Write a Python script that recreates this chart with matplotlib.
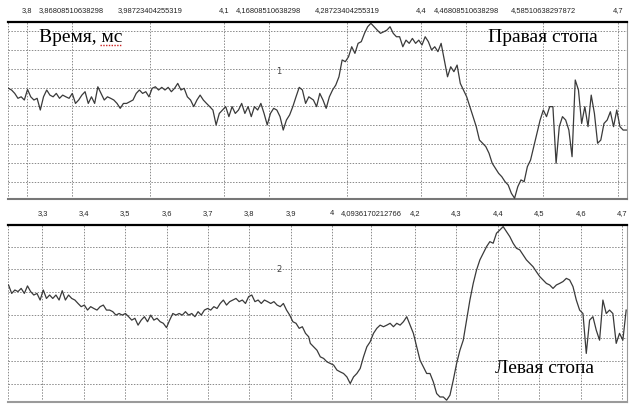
import numpy as np
import matplotlib
matplotlib.use('Agg')
import matplotlib.pyplot as plt

# right foot (top), amplitude in grid units
right_a = [5.96, 5.87, 5.69, 5.43, 5.51, 5.34, 5.90, 5.51, 5.34, 5.43,
           4.81, 5.51, 5.87, 5.60, 5.51, 5.69, 5.43, 5.60, 5.51, 5.43,
           5.69, 5.16, 5.34, 5.60, 5.78, 5.16, 5.51, 5.16, 6.04, 5.69,
           5.34, 5.51, 5.43, 5.34, 5.16, 4.90, 5.16, 5.16, 5.25, 5.34,
           5.69, 5.87, 5.69, 5.78, 5.51, 5.96, 6.04, 5.87, 6.01, 5.87,
           6.01, 5.78, 5.96, 6.22, 5.87, 5.96, 5.51, 5.34, 4.99, 5.34,
           5.60, 5.34, 5.16, 4.99, 4.81, 4.02, 4.63, 4.81, 4.99, 4.46,
           4.99, 4.63, 4.81, 5.16, 4.63, 4.99, 4.46, 4.99, 4.81, 5.16,
           4.63, 4.02, 4.63, 4.90, 4.81, 4.46, 3.75, 4.28, 4.55, 4.99,
           5.51, 6.01, 5.87, 5.16, 5.51]
right_b = [5.34, 4.99, 5.69, 5.34, 4.90, 5.51, 5.87, 6.13, 6.57, 7.46,
           7.37, 7.63, 8.16, 7.81, 8.34, 8.43, 8.87, 9.22, 9.40, 9.22,
           9.04, 8.87, 8.95, 9.04, 9.22, 8.87, 8.69, 8.69, 8.16, 8.51,
           8.34, 8.60, 8.34, 8.51, 8.25, 8.69, 8.43, 7.99, 8.16, 7.90,
           8.34, 7.46, 6.57, 7.10, 6.84, 7.19, 6.22, 5.87, 5.51, 4.99,
           4.46, 3.93, 3.22, 3.05, 2.87, 2.52, 1.99, 1.72, 1.46, 1.28,
           1.02, 0.84, 0.40, 0.14, 0.75, 1.11, 1.02, 1.81, 2.16, 2.87,
           3.58, 4.28, 4.81, 4.46, 4.99, 4.99, 1.99, 3.93, 4.46, 4.28,
           3.75, 2.34, 6.40, 5.87, 4.10, 4.99, 3.93, 5.60, 4.63, 3.05,
           3.22, 4.10, 4.28, 4.72, 3.93, 4.81, 3.93, 3.75, 3.75]

# left foot (bottom)
left_a = [5.32, 4.95, 5.10, 5.03, 5.17, 4.95, 5.28, 5.03, 4.88, 4.95,
          4.66, 5.10, 4.73, 4.88, 4.73, 4.88, 4.66, 5.07, 4.66, 4.88,
          4.73, 4.66, 4.51, 4.37, 4.44, 4.22, 4.37, 4.29, 4.22, 4.37,
          4.44, 4.22, 4.22, 4.15, 4.00, 4.07, 4.00, 4.07, 3.93, 3.78,
          3.86, 3.56, 3.78, 3.93, 3.71, 4.00, 3.78, 3.86, 3.71, 3.64,
          3.45, 3.78, 4.07, 4.00, 4.07, 4.00, 4.15, 4.00, 4.07, 3.93,
          4.15, 4.00, 4.22, 4.29, 4.22, 4.37, 4.29, 4.51, 4.66, 4.44,
          4.59, 4.66, 4.73, 4.59, 4.66, 4.51, 4.81, 4.88, 4.59, 4.66,
          4.51, 4.66, 4.59, 4.51, 4.59, 4.44, 4.37, 4.51, 4.22, 4.00,
          3.71, 3.64, 3.42, 3.49, 3.20, 3.05]
left_b = [2.76, 2.61, 2.46, 2.17, 2.10, 1.95, 1.88, 1.81, 1.59, 1.51,
          1.44, 1.29, 1.00, 1.29, 1.44, 1.66, 2.17, 2.61, 2.83, 3.20,
          3.42, 3.56, 3.49, 3.56, 3.64, 3.49, 3.64, 3.56, 3.71, 3.93,
          3.56, 3.20, 2.61, 2.02, 1.73, 1.44, 1.44, 1.07, 0.56, 0.41,
          0.41, 0.27, 0.49, 1.15, 1.88, 2.46, 2.90, 3.78, 4.66, 5.39,
          5.98, 6.42, 6.71, 7.00, 7.22, 7.15, 7.59, 7.73, 7.88, 7.66,
          7.44, 7.15, 6.93, 6.86, 6.64, 6.42, 6.27, 6.12, 5.90, 5.69,
          5.54, 5.39, 5.32, 5.17, 5.32, 5.39, 5.47, 5.61, 5.54, 5.25,
          4.66, 4.22, 4.07, 2.32, 3.78, 3.93, 3.34, 2.90, 4.66, 4.07,
          4.22, 4.07, 2.76, 3.20, 2.90, 4.22]

# sample times, ms (the recorder samples evenly)
t_right = np.concatenate([np.linspace(3.772, 4.229, len(right_a)),
                          np.linspace(4.236, 4.712, len(right_b))])
t_left = np.concatenate([np.linspace(3.218, 3.943, len(left_a)),
                         np.linspace(3.947, 4.710, len(left_b))])

top_ticks = [3.8, 3.86808510638298, 3.98723404255319, 4.1, 4.16808510638298,
             4.28723404255319, 4.4, 4.46808510638298, 4.58510638297872, 4.7]
top_labels = ['3,8', '3,86808510638298', '3,98723404255319', '4,1', '4,16808510638298',
              '4,28723404255319', '4,4', '4,46808510638298', '4,58510638297872', '4,7']
bot_ticks = [3.3, 3.4, 3.5, 3.6, 3.7, 3.8, 3.9, 4.0, 4.0936170212766,
             4.2, 4.3, 4.4, 4.5, 4.6, 4.7]
bot_labels = ['3,3', '3,4', '3,5', '3,6', '3,7', '3,8', '3,9', '4', '4,0936170212766',
              '4,2', '4,3', '4,4', '4,5', '4,6', '4,7']

W, H = 630, 405
fig = plt.figure(figsize=(W / 100, H / 100), dpi=100)
fig.patch.set_facecolor('white')


def add_ax(l, t, r, b):
    return fig.add_axes([l / W, 1 - b / H, (r - l) / W, (b - t) / H])


def style(ax, ticks, labels, xlim, ylim, nlines, bottom_col):
    ax.set_xlim(*xlim)
    ax.set_ylim(*ylim)
    ax.xaxis.tick_top()
    ax.set_xticks(ticks)
    ax.set_xticklabels(labels, fontsize=5.4, color='#222222', family='Liberation Sans')
    ax.tick_params(axis='x', length=0, pad=5.5)
    ax.set_yticks([])
    for v in ticks:
        ax.axvline(v, color='#8a8a8a', lw=0.7, ls=(0, (1.5, 1.5)), zorder=1)
    ax.axvline(xlim[0] + 0.001, color='#8a8a8a', lw=0.7, ls=(0, (1.5, 1.5)), zorder=1)
    for k in range(1, nlines + 1):
        ax.axhline(k, color='#8a8a8a', lw=0.7, ls=(0, (1.5, 1.5)), zorder=1)
    ax.spines['top'].set_linewidth(1.6)
    ax.spines['top'].set_color('black')
    ax.spines['left'].set_visible(False)
    ax.spines['right'].set_color('#9a9a9a')
    ax.spines['right'].set_linewidth(0.8)
    ax.spines['bottom'].set_color(bottom_col)
    ax.spines['bottom'].set_linewidth(1.5)


ax1 = add_ax(7.5, 22, 627, 199)
style(ax1, top_ticks, top_labels, (3.7707, 4.713), (0.10, 9.47), 9, '#777777')
ax1.plot(t_right, right_a + right_b, color='#3a3a3a', lw=0.9, zorder=3)

ax2 = add_ax(7.5, 225, 627, 402)
style(ax2, bot_ticks, bot_labels, (3.2155, 4.712), (0.19, 7.95), 7, '#9a9a9a')
ax2.plot(t_left, left_a + left_b, color='#3a3a3a', lw=0.9, zorder=3)

serif = 'Liberation Serif'
fig.text(39 / W, 1 - 42 / H, 'Время, мс', fontsize=14, family=serif, va='baseline')
fig.text(488 / W, 1 - 42 / H, 'Правая стопа', fontsize=14, family=serif, va='baseline')
fig.text(495 / W, 1 - 373 / H, 'Левая стопа', fontsize=14, family=serif, va='baseline')
# spell-check squiggle under "мс"
fig.lines.append(plt.Line2D([100 / W, 122 / W], [1 - 44.5 / H, 1 - 44.5 / H],
                            transform=fig.transFigure, color='#cc2222', lw=1.0, ls=(0, (1, 1))))

fig.text(279 / W, 1 - 72 / H, '1', fontsize=6, color='#444444', ha='center', va='center')
fig.text(279 / W, 1 - 269 / H, '2', fontsize=6, color='#444444', ha='center', va='center')

fig.savefig('out.png', dpi=100)
